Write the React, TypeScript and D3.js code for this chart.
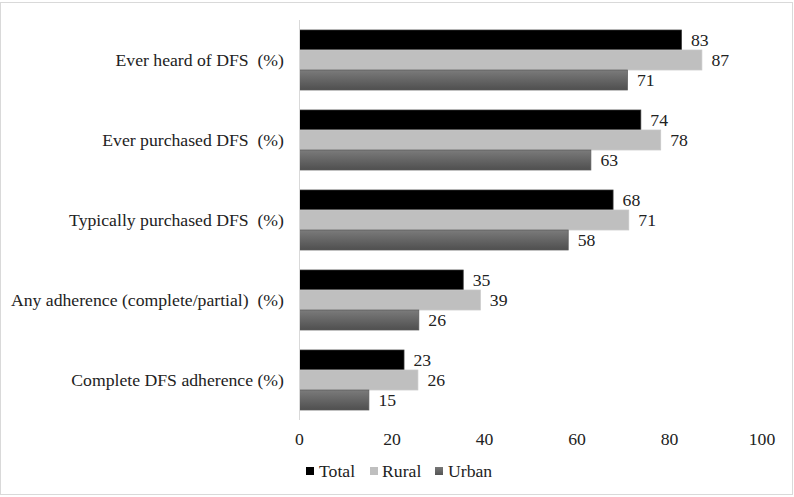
import React from "react";
import * as d3 from "d3";

const categories = [
  "Ever heard of DFS  (%)",
  "Ever purchased DFS  (%)",
  "Typically purchased DFS  (%)",
  "Any adherence (complete/partial)  (%)",
  "Complete DFS adherence (%)",
];
const seriesNames = ["Total", "Rural", "Urban"];
const totalValues = [82.6, 73.8, 67.8, 35.4, 22.6];
const ruralValues = [87.0, 78.1, 71.2, 39.1, 25.6];
const urbanValues = [70.9, 63.0, 58.1, 25.8, 15.0];
const xTicks = [0, 20, 40, 60, 80, 100];

const W = 794;
const H = 497;
const FONT = "Liberation Serif, Times New Roman, Times, serif";
const FS = 17.7;

export default function App() {
  const x = d3.scaleLinear().domain([0, 100]).range([299.5, 762]);
  const y = d3.scaleBand<string>().domain(categories).range([20, 420]).paddingInner(0.25).paddingOuter(0.125);
  const inner = d3.scaleBand<string>().domain(seriesNames).range([0, y.bandwidth()]);
  const series = [totalValues, ruralValues, urbanValues];
  const fills = ["#000000", "#bfbfbf", "url(#urbanGrad)"];
  const strokes = ["#3a3a3a", "#c8c8c8", "#5a5a5a"];
  const fmt = d3.format(".0f");

  const legendItems = [
    { name: "Total", sq: 306, tx: 319, fill: "#000000" },
    { name: "Rural", sq: 370, tx: 382, fill: "#bfbfbf" },
    { name: "Urban", sq: 435, tx: 448, fill: "url(#urbanGradL)" },
  ];
  const ts: React.CSSProperties = { fontFamily: FONT, fontSize: FS, whiteSpace: "pre" };

  return (
    <svg
      width={W}
      height={H}
      style={{ position: "absolute", left: 0, top: 0, background: "#fff" }}
    >
      <defs>
        <linearGradient id="urbanGrad" x1="0" y1="0" x2="0" y2="1">
          <stop offset="0" stopColor="#7b7b7b" />
          <stop offset="1" stopColor="#4f4f4f" />
        </linearGradient>
        <linearGradient id="urbanGradL" x1="0" y1="0" x2="0" y2="1">
          <stop offset="0" stopColor="#777" />
          <stop offset="1" stopColor="#555" />
        </linearGradient>
      </defs>
      <rect x={0.5} y={2.5} width={792} height={492} fill="#fff" stroke="#d9d9d9" strokeWidth={1} />

      {categories.map((c, i) => (
        <g key={c}>
          <text
            x={284}
            y={(y(c) as number) + y.bandwidth() / 2}
            textAnchor="end"
            dominantBaseline="central"
            style={ts}
            fill="#222"
          >
            {c}
          </text>
          {series.map((vals, s) => {
            const by = (y(c) as number) + (inner(seriesNames[s]) as number);
            const bh = inner.bandwidth();
            return (
              <g key={s}>
                <rect
                  x={x(0)}
                  y={by}
                  width={x(vals[i]) - x(0)}
                  height={bh}
                  fill={fills[s]}
                  stroke={strokes[s]}
                  strokeWidth={0.75}
                />
                <text
                  x={x(vals[i]) + 9.5}
                  y={by + bh / 2}
                  dominantBaseline="central"
                  style={ts}
                  fill="#222"
                >
                  {fmt(vals[i])}
                </text>
              </g>
            );
          })}
        </g>
      ))}

      <line x1={299.5} x2={299.5} y1={20} y2={420} stroke="#d9d9d9" strokeWidth={1} />

      {xTicks.map((t) => (
        <text key={t} x={x(t)} y={439} textAnchor="middle" dominantBaseline="central" style={ts} fill="#222">
          {t}
        </text>
      ))}

      {legendItems.map((l) => (
        <g key={l.name}>
          <rect x={l.sq} y={467} width={8} height={8} fill={l.fill} />
          <text x={l.tx} y={471} dominantBaseline="central" style={ts} fill="#222">
            {l.name}
          </text>
        </g>
      ))}
    </svg>
  );
}
